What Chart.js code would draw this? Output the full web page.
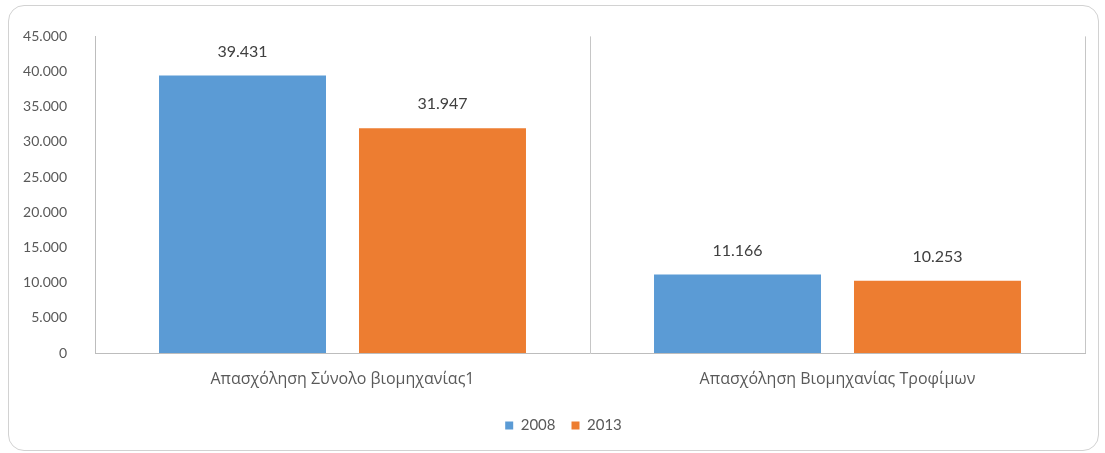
<!DOCTYPE html>
<html>
<head>
<meta charset="utf-8">
<script src="https://cdn.jsdelivr.net/npm/chart.js@4/dist/chart.umd.min.js"></script>
<style>
  html, body { margin: 0; padding: 0; background: #fff; }
  #wrap { position: relative; width: 1105px; height: 453px; }
  #frame { position: absolute; left: 8px; top: 5px; width: 1091px; height: 446px;
           border: 1.5px solid #d2d2d2; border-radius: 16px; box-sizing: border-box; }
  canvas { position: absolute; left: 0; top: 0; }
</style>
</head>
<body>
<div id="wrap">
  <div id="frame"></div>
  <canvas id="c" width="1105" height="453"></canvas>
</div>
<script>
const categories = ["Απασχόληση Σύνολο βιομηχανίας1", "Απασχόληση Βιομηχανίας Τροφίμων"];
const seriesNames = ["2008", "2013"];
const values2008 = [39431, 11166];
const values2013 = [31947, 10253];
const yTicks = [0, 5000, 10000, 15000, 20000, 25000, 30000, 35000, 40000, 45000];

function fmt(v) {
  return String(Math.round(v)).replace(/\B(?=(\d{3})+(?!\d))/g, ".");
}

const FONT = "Lato, 'Open Sans', sans-serif";
const TXT = "#595959";

const dataLabels = {
  id: "dataLabels",
  afterDatasetsDraw(chart) {
    const ctx = chart.ctx;
    ctx.save();
    ctx.font = "16px " + FONT;
    ctx.fillStyle = "#404040";
    ctx.textAlign = "center";
    ctx.textBaseline = "middle";
    chart.data.datasets.forEach((ds, i) => {
      const meta = chart.getDatasetMeta(i);
      meta.data.forEach((bar, j) => {
        ctx.fillText(fmt(ds.data[j]), bar.x, bar.y - 24);
      });
    });
    ctx.restore();
  }
};

const legendShift = {
  id: "legendShift",
  afterLayout(chart) {
    if (chart.legend) { chart.legend.left += 11; chart.legend.right += 11; }
  }
};

new Chart(document.getElementById("c"), {
  type: "bar",
  data: {
    labels: categories,
    datasets: [
      { label: seriesNames[0], data: values2008, backgroundColor: "#5B9BD5" },
      { label: seriesNames[1], data: values2013, backgroundColor: "#ED7D31" }
    ]
  },
  options: {
    responsive: false,
    animation: false,
    devicePixelRatio: 1,
    categoryPercentage: 0.808,
    barPercentage: 0.835,
    layout: { padding: { left: 20, right: 20, top: 34, bottom: 10 } },
    plugins: {
      tooltip: { enabled: false },
      legend: {
        position: "bottom",
        labels: {
          boxWidth: 8, boxHeight: 8, padding: 16,
          color: TXT, font: { family: FONT, size: 15 }
        }
      }
    },
    scales: {
      x: {
        grid: { display: true, offset: true, color: "#c6c6c6", drawTicks: false },
        border: { display: true, color: "#bdbdbd" },
        ticks: { color: TXT, font: { family: "'Open Sans', sans-serif", size: 16 }, padding: 17 },
        afterFit(scale) { scale.height = 49; }
      },
      y: {
        min: 0, max: 45000,
        afterBuildTicks(scale) { scale.ticks = yTicks.map(v => ({ value: v })); },
        grid: { display: false, drawTicks: false },
        border: { display: true, color: "#bdbdbd" },
        ticks: { color: TXT, font: { family: FONT, size: 14 }, padding: 28,
                 callback: v => fmt(v) },
        afterFit(scale) { scale.width = 75; }
      }
    }
  },
  plugins: [dataLabels, legendShift]
});
</script>
</body>
</html>
